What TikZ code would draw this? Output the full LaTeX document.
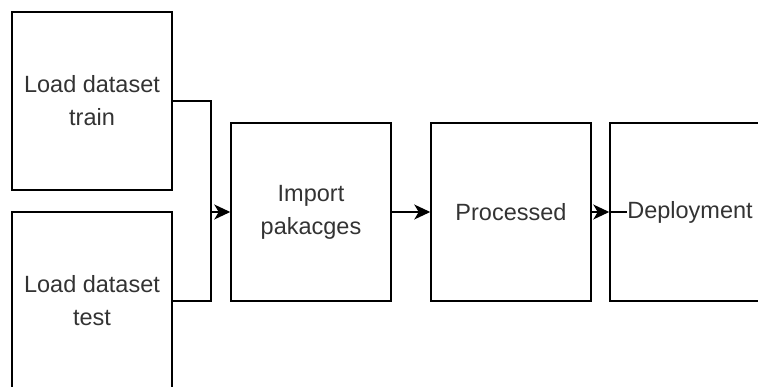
\documentclass[tikz,border=0pt]{standalone}
\usepackage{fontspec}
\setmainfont{Liberation Sans}
\usetikzlibrary{arrows.meta}

\begin{document}
\begin{tikzpicture}[x = 1pt, y = -1pt, line width = 1.5pt,
        box/.style = {draw, rectangle, minimum width = 160pt, minimum height = 178pt,
            align = center, text = black!80, font = \fontsize{23.5}{33}\selectfont},
        lbl/.style = {inner sep = 0pt, text = black!80, font = \fontsize{23.5}{33}\selectfont},
        arr/.style = {-{Stealth[length = 16pt, width = 15pt, inset = 4.5pt]}}] % pipeline tikzpic
        \useasboundingbox (0, 0) rectangle (758, 387);
        \clip (0, 0) rectangle (758, 387);

        % Boxes
        \node[box] (train) at (92, 101) {Load dataset\\train};
        \node[box] (test) at (92, 301) {Load dataset\\test};
        \node[box] (import) at (311, 212) {Import\\pakacges};
        \node[box] (proc) at (511, 212) {Processed};
        \node[box] (deploy) at (690, 212) {};
        \node[lbl] (deptext) at (deploy.center) {Deployment};

        % Connectors
        \coordinate (join) at (211, 212);
        \draw (train.east) -| (join);
        \draw (test.east) -| (join);
        \draw[arr] (join) -- (import.west);
        \draw[arr] (import) -- (proc);
        \draw[arr] (proc) -- (deploy);
        \draw (deploy.west) -- (deptext.west);
    \end{tikzpicture}
\end{document}
